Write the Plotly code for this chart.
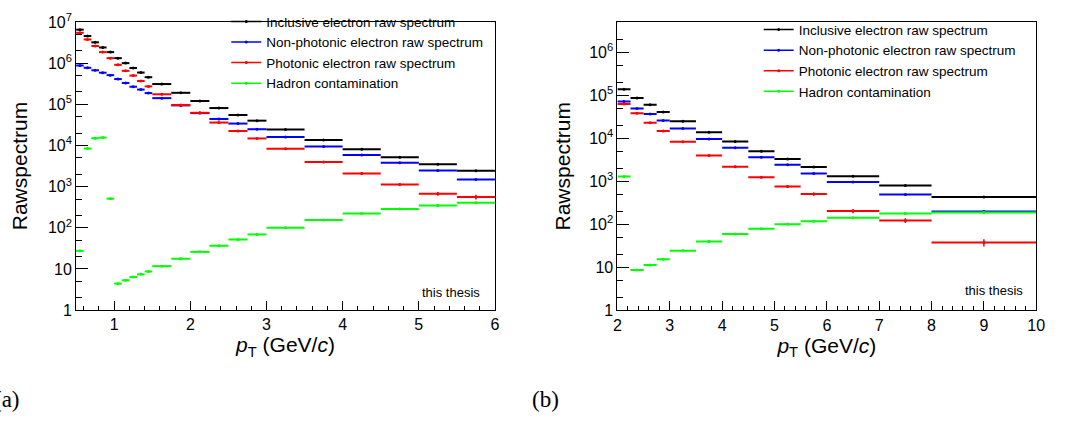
import plotly.graph_objects as go

W, H = 1065, 422

# ---------------- data: panel (a) ----------------
edges_a = [0.5, 0.6, 0.7, 0.8, 0.9, 1.0, 1.1, 1.2, 1.3, 1.4, 1.5,
           1.75, 2.0, 2.25, 2.5, 2.75, 3.0, 3.5, 4.0, 4.5, 5.0, 5.5, 6.0]
incl_a = [6.5e6, 4.55e6, 3.2e6, 2.4e6, 1.85e6, 1.32e6, 1.0e6, 7.6e5, 5.9e5, 4.55e5,
          3.1e5, 1.9e5, 1.2e5, 8.1e4, 5.5e4, 4.0e4, 2.44e4, 1.36e4, 8.1e3, 5.2e3, 3.5e3, 2.44e3]
npe_a = [8.75e5, 7.7e5, 6.7e5, 5.85e5, 5.1e5, 4.1e5, 3.3e5, 2.67e5, 2.28e5, 1.87e5,
         1.41e5, 9.4e4, 6.1e4, 4.4e4, 3.4e4, 2.48e4, 1.6e4, 9.4e3, 5.9e3, 3.8e3, 2.45e3, 1.48e3]
pho_a = [5.45e6, 3.76e6, 2.6e6, 1.85e6, 1.32e6, 9.1e5, 6.5e5, 4.98e5, 3.68e5, 2.72e5,
         1.75e5, 9.6e4, 6.2e4, 3.6e4, 2.24e4, 1.48e4, 8.3e3, 3.95e3, 2.08e3, 1.12e3, 668, 560]
had_a = [27.5, 8.4e3, 1.5e4, 1.55e4, 510, 4.4, 5.3, 6.4, 7.4, 8.7,
         11.7, 17.7, 26, 36.6, 52, 69, 100, 155, 222, 285, 347, 407]
pho_a_relerr = [3, 3, 3, 3, 3, 3, 3, 3, 3, 3, 3, 3, 3, 3, 4, 4, 5, 6, 7, 8, 10, 13]

# ---------------- data: panel (b) ----------------
edges_b = [2.0, 2.25, 2.5, 2.75, 3.0, 3.5, 4.0, 4.5, 5.0, 5.5, 6.0, 7.0, 8.0, 10.0]
incl_b = [1.38e5, 8.7e4, 6.0e4, 4.1e4, 2.5e4, 1.38e4, 8.4e3, 5.0e3, 3.3e3, 2.15e3, 1.31e3, 795, 432]
npe_b = [7.2e4, 4.96e4, 3.65e4, 2.6e4, 1.7e4, 9.6e3, 6.0e3, 3.65e3, 2.42e3, 1.53e3, 965, 496, 200]
pho_b = [6.3e4, 3.8e4, 2.3e4, 1.47e4, 8.3e3, 3.98e3, 2.19e3, 1.25e3, 760, 505, 205, 123, 38]
had_b = [1.29e3, 8.7, 11.3, 15.5, 24.2, 40, 60, 79, 101, 118, 143, 178, 188]
pho_b_relerr = [3, 3, 3, 3, 4, 5, 6, 7, 8, 9, 11, 13, 19]

names = ["Inclusive electron raw spectrum", "Non-photonic electron raw spectrum",
         "Photonic electron raw spectrum", "Hadron contamination"]
colors = ["#000000", "#0000ff", "#ff0000", "#00ff00"]

yticks_a = [1, 10, 100, 1e3, 1e4, 1e5, 1e6, 1e7]
yticks_b = [1, 10, 100, 1e3, 1e4, 1e5, 1e6]
ytext = ["1", "10", "10<sup>2</sup>", "10<sup>3</sup>", "10<sup>4</sup>",
         "10<sup>5</sup>", "10<sup>6</sup>", "10<sup>7</sup>"]

FONT = "Liberation Sans, Arial, sans-serif"
SERIF = "Liberation Serif, Times New Roman, serif"


def px_x(p):
    return p / W


def px_y(p):
    return 1 - p / H


fig = go.Figure()


def add_panel(edges, series, relerrs, xa, ya, legend):
    centers = [(a + b) / 2 for a, b in zip(edges[:-1], edges[1:])]
    halfw = [(b - a) / 2 for a, b in zip(edges[:-1], edges[1:])]
    for i, (vals, col) in enumerate(zip(series, colors)):
        rel = relerrs[i]
        if rel is None:
            ey = dict(type="percent", value=3, color=col, thickness=1.5, width=0)
        else:
            ey = dict(type="data", array=[v * r / 100 for v, r in zip(vals, rel)],
                      color=col, thickness=1.5, width=0)
        fig.add_trace(go.Scatter(
            x=centers, y=vals, mode="markers", xaxis=xa, yaxis=ya,
            marker=dict(color=col, size=3),
            error_x=dict(type="data", array=halfw, color=col, thickness=2, width=0),
            error_y=ey, showlegend=False, hoverinfo="skip"))
    # legend entries
    for name, col in zip(names, colors):
        fig.add_trace(go.Scatter(
            x=[None], y=[None], mode="lines+markers", name=name, xaxis=xa, yaxis=ya,
            line=dict(color=col, width=1.5), marker=dict(color=col, size=3),
            legend=legend, showlegend=True))


add_panel(edges_a, [incl_a, npe_a, pho_a, had_a], [None, None, pho_a_relerr, None],
          "x", "y", "legend")
add_panel(edges_b, [incl_b, npe_b, pho_b, had_b], [None, None, pho_b_relerr, None],
          "x2", "y2", "legend2")

axis_common = dict(showline=True, linecolor="black", linewidth=1, mirror=True,
                   showgrid=False, zeroline=False, ticks="inside", tickcolor="black",
                   tickfont=dict(family=FONT, size=16, color="black"))

xtitle = "<i>p</i><sub>T</sub> (GeV/<i>c</i>)"

fig.update_layout(
    width=W, height=H, margin=dict(l=0, r=0, t=0, b=0),
    paper_bgcolor="white", plot_bgcolor="white",
    font=dict(family=FONT, color="black"),
    xaxis=dict(**axis_common, domain=[px_x(73), px_x(497)], range=[0.5, 6], anchor="y",
               dtick=1, tick0=0, ticklen=9,
               minor=dict(ticks="inside", ticklen=4, dtick=0.2, tick0=0, tickcolor="black"),
               title=dict(text=xtitle, font=dict(size=21), standoff=2)),
    yaxis=dict(**axis_common, domain=[px_y(314), px_y(11.5)], type="log", range=[0, 7],
               anchor="x", tickvals=yticks_a, ticktext=ytext, ticklen=12,
               minor=dict(ticks="inside", ticklen=6, tickcolor="black"),
               title=dict(text="Rawspectrum", font=dict(size=21), standoff=14)),
    xaxis2=dict(**axis_common, domain=[px_x(621), px_x(1045)], range=[2, 10], anchor="y2",
                dtick=1, tick0=0, ticklen=9,
                minor=dict(ticks="inside", ticklen=4, dtick=0.2, tick0=0, tickcolor="black"),
                title=dict(text=xtitle, font=dict(size=21), standoff=2)),
    yaxis2=dict(**axis_common, domain=[px_y(314.3), px_y(11.7)], type="log", range=[0, 6.7],
                anchor="x2", tickvals=yticks_b, ticktext=ytext[:7], ticklen=12,
                minor=dict(ticks="inside", ticklen=6, tickcolor="black"),
                title=dict(text="Rawspectrum", font=dict(size=21), standoff=12)),
    legend=dict(x=px_x(225), y=px_y(-5), xanchor="left", yanchor="top",
                bgcolor="rgba(0,0,0,0)", font=dict(family=FONT, size=13.5),
                tracegroupgap=0),
    legend2=dict(x=px_x(764), y=px_y(3.5), xanchor="left", yanchor="top",
                 bgcolor="rgba(0,0,0,0)", font=dict(family=FONT, size=13.5),
                 tracegroupgap=0),
)

fig.add_annotation(text="this thesis", xref="paper", yref="paper", x=px_x(484), y=px_y(295),
                   xanchor="right", yanchor="middle", showarrow=False,
                   font=dict(family=FONT, size=13, color="black"))
fig.add_annotation(text="this thesis", xref="paper", yref="paper", x=px_x(1034), y=px_y(293),
                   xanchor="right", yanchor="middle", showarrow=False,
                   font=dict(family=FONT, size=13, color="black"))
fig.add_annotation(text="(a)", xref="paper", yref="paper", x=px_x(18), y=px_y(408),
                   xanchor="right", yanchor="middle", showarrow=False,
                   font=dict(family=SERIF, size=23, color="black"))
fig.add_annotation(text="(b)", xref="paper", yref="paper", x=px_x(533), y=px_y(408),
                   xanchor="left", yanchor="middle", showarrow=False,
                   font=dict(family=SERIF, size=23, color="black"))

fig.write_html("out.html")
